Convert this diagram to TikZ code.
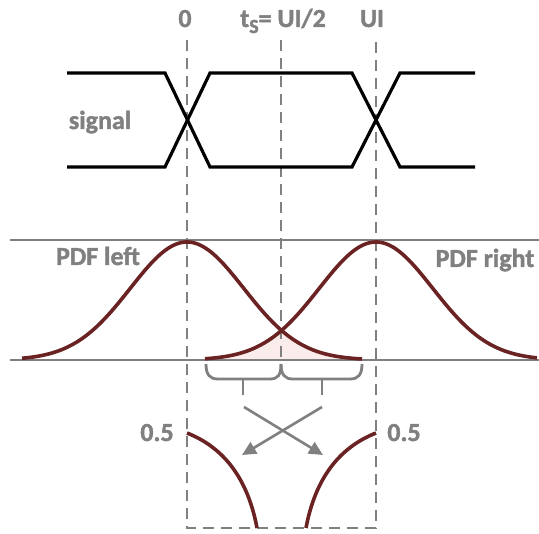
\documentclass[tikz,border=0pt]{standalone}
\usepackage{fontspec}
\setmainfont{Carlito}[BoldFont={Carlito Bold}, BoldFeatures={FakeBold=1.5}]
\usetikzlibrary{arrows.meta}
\definecolor{lbl}{HTML}{808080}
\definecolor{pdfc}{HTML}{6A2222}
\definecolor{pinkfill}{HTML}{FBECEC}
\tikzset{
  lab/.style={text=lbl, font=\bfseries\fontsize{26}{28}\selectfont, inner sep=0pt, anchor=base},
  sig/.style={black, line width=3.2pt},
  curve/.style={pdfc, line width=3.6pt},
  guide/.style={lbl, line width=2.8pt, dash pattern=on 11pt off 7pt},
  axis/.style={lbl, line width=1.4pt},
  bracestyle/.style={lbl, line width=2.8pt},
  arr/.style={lbl, line width=2.6pt, -{Triangle[length=14pt,width=13pt]}},
}
\begin{document}
\begin{tikzpicture}[x=1pt,y=-1pt]
\useasboundingbox (0,0) rectangle (539,534);
% labels
\node[lab] (l0) at (185,27) {0};
\node[lab] (lts) at (283,27) {t\raisebox{-6pt}{\fontsize{20}{20}\selectfont S}= UI/2};
\node[lab] (lui) at (372,27) {UI};
\node[lab] (lsig) at (100,129) {signal};
\node[lab] (lpl) at (98,265) {PDF left};
\node[lab] (lpr) at (485,267) {PDF right};
\node[lab] (h1) at (157,441) {0.5};
\node[lab] (h2) at (404,441) {0.5};
% axes
\coordinate (a1) at (10,240); \coordinate (a2) at (539,240);
\coordinate (b1) at (10,360); \coordinate (b2) at (539,360);
% shaded overlap
\fill[pinkfill] plot[domain=205:281,samples=60] (\x,{360-118*exp(-0.5*((\x-376)/56.8)^2)})
  -- plot[domain=281:362,samples=60] (\x,{360-118*exp(-0.5*((\x-187)/56.8)^2)}) -- (362,360) -- (205,360) -- cycle;
\draw[axis] (a1) -- (a2);
\draw[axis] (b1) -- (b2);
% guides
\coordinate (g0t) at (187,40); \coordinate (g0b) at (187,528);
\coordinate (gmt) at (281,40); \coordinate (gmb) at (281,360);
\coordinate (gut) at (376,40); \coordinate (gub) at (376,528);
\draw[guide] (g0t) -- (g0b) -- (gub) -- (gut);
\draw[guide] (gmt) -- (gmb);
% signal eye
\draw[sig] (67,73) -- (165,73) -- (210,167) -- (352,167) -- (400,73) -- (475,73);
\draw[sig] (67,167) -- (165,167) -- (210,73) -- (352,73) -- (400,167) -- (475,167);
% PDFs
\draw[curve] plot[domain=22:362,samples=120] (\x,{360-118*exp(-0.5*((\x-187)/56.8)^2)});
\draw[curve] plot[domain=205:537,samples=120] (\x,{360-118*exp(-0.5*((\x-376)/56.8)^2)});
% braces
\draw[bracestyle] (206,364) .. controls (206,375) and (210,379) .. (218,379) -- (270,379) .. controls (278,379) and (281,375) .. (281,364);
\draw[bracestyle] (281,364) .. controls (281,375) and (285,379) .. (293,379) -- (350,379) .. controls (358,379) and (362,375) .. (362,364);
\coordinate (t1a) at (243,379); \coordinate (t1b) at (243,395);
\coordinate (t2a) at (322,379); \coordinate (t2b) at (322,395);
\draw[bracestyle] (t1a) -- (t1b);
\draw[bracestyle] (t2a) -- (t2b);
% arrows
\coordinate (s1) at (244,407); \coordinate (e1) at (323,455);
\coordinate (s2) at (322,407); \coordinate (e2) at (242,455);
\draw[arr] (s1) -- (e1);
\draw[arr] (s2) -- (e2);
% lower curves
\draw[curve] (187,433) .. controls (225,448) and (248,480) .. (257,528);
\draw[curve] (376,433) .. controls (338,448) and (315,480) .. (306,528);
\end{tikzpicture}
\end{document}
